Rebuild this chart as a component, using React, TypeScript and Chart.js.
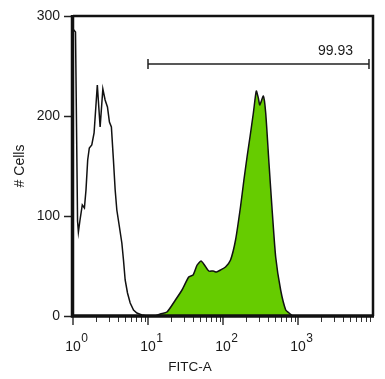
import React, { useEffect, useRef } from 'react';
import { Chart, registerables } from 'chart.js';

Chart.register(...registerables);

// Unstained / control histogram (FITC-A value, # cells)
const controlFitc = [1.0, 1.08, 1.15, 1.18, 1.24, 1.33, 1.42, 1.49, 1.57, 1.65, 1.78, 1.91, 2.11, 2.3, 2.5, 2.68, 2.88, 3.06, 3.25, 3.46, 3.65, 3.84, 4.16, 4.48, 4.71, 4.96, 5.33, 5.79, 6.41, 7.11, 8.3, 9.68];
const controlCounts = [287, 284, 95, 84, 96, 111, 108, 126, 156, 168, 171, 183, 231, 189, 227, 216, 209, 194, 189, 156, 126, 106, 89, 73, 56, 36, 23, 13, 6, 3, 1, 0];

// Stained histogram (green filled)
const stainedFitc = [12.5, 14.6, 17.9, 23.2, 28.4, 34.9, 39.9, 45.2, 51.0, 56.6, 64.6, 74.0, 81.8, 92.7, 108, 126, 147, 171, 190, 211, 229, 254, 278, 296, 310, 345, 371, 410, 455, 504, 587, 686, 759, 850];
const stainedCounts = [0, 2, 4, 16, 26, 39, 41, 51, 55, 51, 45, 45, 44, 46, 49, 56, 76, 109, 136, 161, 179, 203, 225, 218, 211, 220, 203, 153, 103, 59, 26, 6, 3, 0];

// Gate
const gateRange = [10, 8840];
const gateLevel = 252;
const gateLabel = '99.93';

// Axis ticks
const xMajorTicks = [1, 10, 100, 1000];
const xMajorExponents = ['0', '1', '2', '3'];
const xMinorMultipliers = [2, 3, 4, 5, 6, 7, 8, 9];
const yTicks = [0, 100, 200, 300];

const FONT = '"Liberation Sans", Arial, Helvetica, sans-serif';
const TEXT = '#1a1a1a';

const overlay = {
  id: 'overlay',
  afterDraw(chart: any) {
    const { ctx, chartArea: a, scales } = chart;
    const x = scales.x;
    const y = scales.y;
    ctx.save();

    // x tick marks
    ctx.strokeStyle = '#333';
    ctx.lineWidth = 1;
    xMajorTicks.forEach((m) => {
      xMinorMultipliers.forEach((k) => {
        const px = Math.round(x.getPixelForValue(m * k)) + 0.5;
        ctx.beginPath();
        ctx.moveTo(px, a.bottom);
        ctx.lineTo(px, a.bottom + 6);
        ctx.stroke();
      });
    });
    ctx.lineWidth = 1.5;
    xMajorTicks.forEach((m) => {
      const px = x.getPixelForValue(m);
      ctx.beginPath();
      ctx.moveTo(px, a.bottom);
      ctx.lineTo(px, a.bottom + 9);
      ctx.stroke();
    });

    // x tick labels 10^n
    ctx.fillStyle = TEXT;
    xMajorTicks.forEach((m, i) => {
      const px = x.getPixelForValue(m);
      ctx.font = `14px ${FONT}`;
      ctx.textAlign = 'center';
      ctx.textBaseline = 'middle';
      const w = ctx.measureText('10').width;
      ctx.fillText('10', px, a.bottom + 31.5);
      ctx.font = `12px ${FONT}`;
      ctx.textAlign = 'left';
      ctx.fillText(xMajorExponents[i], px + w / 2 + 0.5, a.bottom + 22.5);
    });

    // x title
    ctx.font = `13.5px ${FONT}`;
    ctx.textAlign = 'center';
    ctx.textBaseline = 'middle';
    ctx.fillText('FITC-A', a.left + (a.right - a.left) * 0.39, a.bottom + 51.5);

    // frame
    ctx.strokeStyle = '#111';
    ctx.lineWidth = 2.5;
    ctx.beginPath();
    ctx.moveTo(a.left, a.top);
    ctx.lineTo(a.right, a.top);
    ctx.lineTo(a.right, a.bottom);
    ctx.stroke();
    ctx.lineWidth = 3.5;
    ctx.beginPath();
    ctx.moveTo(a.left - 0.5, a.top - 1);
    ctx.lineTo(a.left - 0.5, a.bottom);
    ctx.lineTo(a.right + 1, a.bottom);
    ctx.stroke();

    // gate
    const gx1 = x.getPixelForValue(gateRange[0]);
    const gx2 = x.getPixelForValue(gateRange[1]);
    const gy = y.getPixelForValue(gateLevel);
    ctx.strokeStyle = '#222';
    ctx.lineWidth = 1.5;
    ctx.beginPath();
    ctx.moveTo(gx1, gy);
    ctx.lineTo(gx2, gy);
    ctx.moveTo(gx1, gy - 5);
    ctx.lineTo(gx1, gy + 5);
    ctx.moveTo(gx2, gy - 5);
    ctx.lineTo(gx2, gy + 5);
    ctx.stroke();
    ctx.font = `14px ${FONT}`;
    ctx.textAlign = 'right';
    ctx.textBaseline = 'middle';
    ctx.fillStyle = TEXT;
    ctx.fillText(gateLabel, gx2 - 16, gy - 12.5);

    ctx.restore();
  },
};

export default function App() {
  const ref = useRef<HTMLCanvasElement | null>(null);

  useEffect(() => {
    if (!ref.current) return;
    const chart = new Chart(ref.current, {
      type: 'line',
      data: {
        datasets: [
          {
            label: 'Stained',
            data: stainedFitc.map((v, i) => ({ x: v, y: stainedCounts[i] })),
            borderColor: '#111',
            borderWidth: 1.5,
            backgroundColor: '#66cc00',
            fill: 'origin',
            pointRadius: 0,
            tension: 0.2,
          },
          {
            label: 'Control',
            data: controlFitc.map((v, i) => ({ x: v, y: controlCounts[i] })),
            borderColor: '#111',
            borderWidth: 1.5,
            fill: false,
            pointRadius: 0,
            tension: 0,
          },
        ],
      },
      options: {
        animation: false,
        responsive: true,
        maintainAspectRatio: false,
        layout: { padding: { top: 16, right: 12, left: 0, bottom: 0 } },
        plugins: { legend: { display: false }, tooltip: { enabled: false } },
        scales: {
          x: {
            type: 'logarithmic',
            min: 1,
            max: 10000,
            grid: { display: false },
            border: { display: false },
            ticks: { display: false },
            afterFit: (s: any) => {
              s.height = 63;
            },
          },
          y: {
            type: 'linear',
            min: 0,
            max: 300,
            afterBuildTicks: (s: any) => {
              s.ticks = yTicks.map((v) => ({ value: v }));
            },
            grid: {
              display: true,
              drawOnChartArea: false,
              drawTicks: true,
              tickLength: 9,
              tickWidth: 1.5,
              tickColor: '#222',
            },
            border: { display: false },
            ticks: {
              padding: 4,
              color: TEXT,
              font: { family: FONT, size: 14 },
            },
            title: {
              display: true,
              text: '# Cells',
              color: TEXT,
              font: { family: FONT, size: 14 },
              padding: { top: 12, bottom: 0 },
            },
            afterFit: (s: any) => {
              s.width = 73;
            },
          },
        },
      },
      plugins: [overlay],
    });
    return () => chart.destroy();
  }, []);

  return (
    <div style={{ position: 'fixed', left: 0, top: 0, width: 385, height: 379, background: '#fff' }}>
      <canvas ref={ref} />
    </div>
  );
}
